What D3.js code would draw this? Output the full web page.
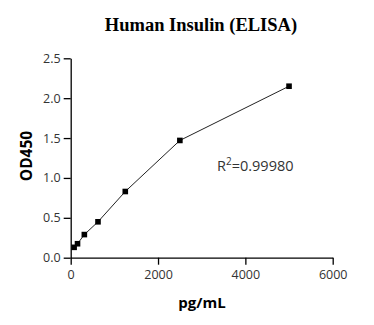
<!DOCTYPE html>
<html>
<head>
<meta charset="utf-8">
<script src="https://cdn.jsdelivr.net/npm/d3@7"></script>
<style>
  body { margin: 0; background: #fff; }
  svg { display: block; }
</style>
</head>
<body>
<svg id="chart" width="374" height="325"></svg>
<script>
  // standard curve values
  const conc = [78.125, 156.25, 312.5, 625, 1250, 2500, 5000];
  const od = [0.13, 0.175, 0.29, 0.45, 0.83, 1.47, 2.15];
  const xTicks = [0, 2000, 4000, 6000];
  const yTicks = [0, 0.5, 1.0, 1.5, 2.0, 2.5];

  const data = conc.map((c, i) => ({ conc: c, od: od[i] }));

  const svg = d3.select("#chart");

  const x = d3.scaleLinear().domain([0, 6000]).range([70.7, 332.7]);
  const y = d3.scaleLinear().domain([0, 2.5]).range([257.7, 58.3]);

  const labelFont = "'Open Sans', 'Noto Sans', sans-serif";

  // x axis
  const xAxis = svg.append("g")
    .attr("transform", `translate(0, ${y(0)})`)
    .call(d3.axisBottom(x).tickValues(xTicks).tickFormat(d3.format("d")).tickSize(7).tickPadding(5).tickSizeOuter(0));

  // y axis
  const yAxis = svg.append("g")
    .attr("transform", `translate(${x(0)}, 0)`)
    .call(d3.axisLeft(y).tickValues(yTicks).tickFormat(d3.format(".1f")).tickSize(7).tickPadding(3).tickSizeOuter(0));

  [xAxis, yAxis].forEach(a => {
    a.select(".domain").attr("stroke", "#000").attr("stroke-width", 1.3);
    a.selectAll(".tick line").attr("stroke", "#000").attr("stroke-width", 1.3);
    a.selectAll(".tick text")
      .attr("fill", "#333")
      .style("font-family", labelFont)
      .style("font-size", "12.5px");
  });

  // curve
  const line = d3.line()
    .x(d => x(d.conc))
    .y(d => y(d.od));

  svg.append("path")
    .datum(data)
    .attr("fill", "none")
    .attr("stroke", "#222")
    .attr("stroke-width", 1)
    .attr("d", line);

  svg.selectAll("rect.pt")
    .data(data)
    .enter()
    .append("rect")
    .attr("class", "pt")
    .attr("x", d => x(d.conc) - 2.8)
    .attr("y", d => y(d.od) - 2.8)
    .attr("width", 5.6)
    .attr("height", 5.6)
    .attr("fill", "#000");

  // title
  svg.append("text")
    .attr("x", 201)
    .attr("y", 31)
    .attr("text-anchor", "middle")
    .style("font-family", "'Liberation Serif', 'Times New Roman', serif")
    .style("font-weight", "bold")
    .style("font-size", "18.5px")
    .text("Human Insulin (ELISA)");

  // axis titles
  svg.append("text")
    .attr("x", 202)
    .attr("y", 308)
    .attr("text-anchor", "middle")
    .style("font-family", labelFont)
    .style("font-weight", "bold")
    .style("font-size", "15px")
    .text("pg/mL");

  svg.append("text")
    .attr("transform", "translate(32, 156) rotate(-90)")
    .attr("text-anchor", "middle")
    .style("font-family", labelFont)
    .style("font-weight", "bold")
    .style("font-size", "15.5px")
    .text("OD450");

  // r squared note
  const r2 = svg.append("text")
    .attr("x", 217)
    .attr("y", 171)
    .attr("fill", "#333")
    .style("font-family", labelFont)
    .style("font-size", "14.5px");
  r2.append("tspan").text("R");
  r2.append("tspan").attr("dy", -6).style("font-size", "10px").text("2");
  r2.append("tspan").attr("dy", 6).text("=0.99980");
</script>
</body>
</html>
